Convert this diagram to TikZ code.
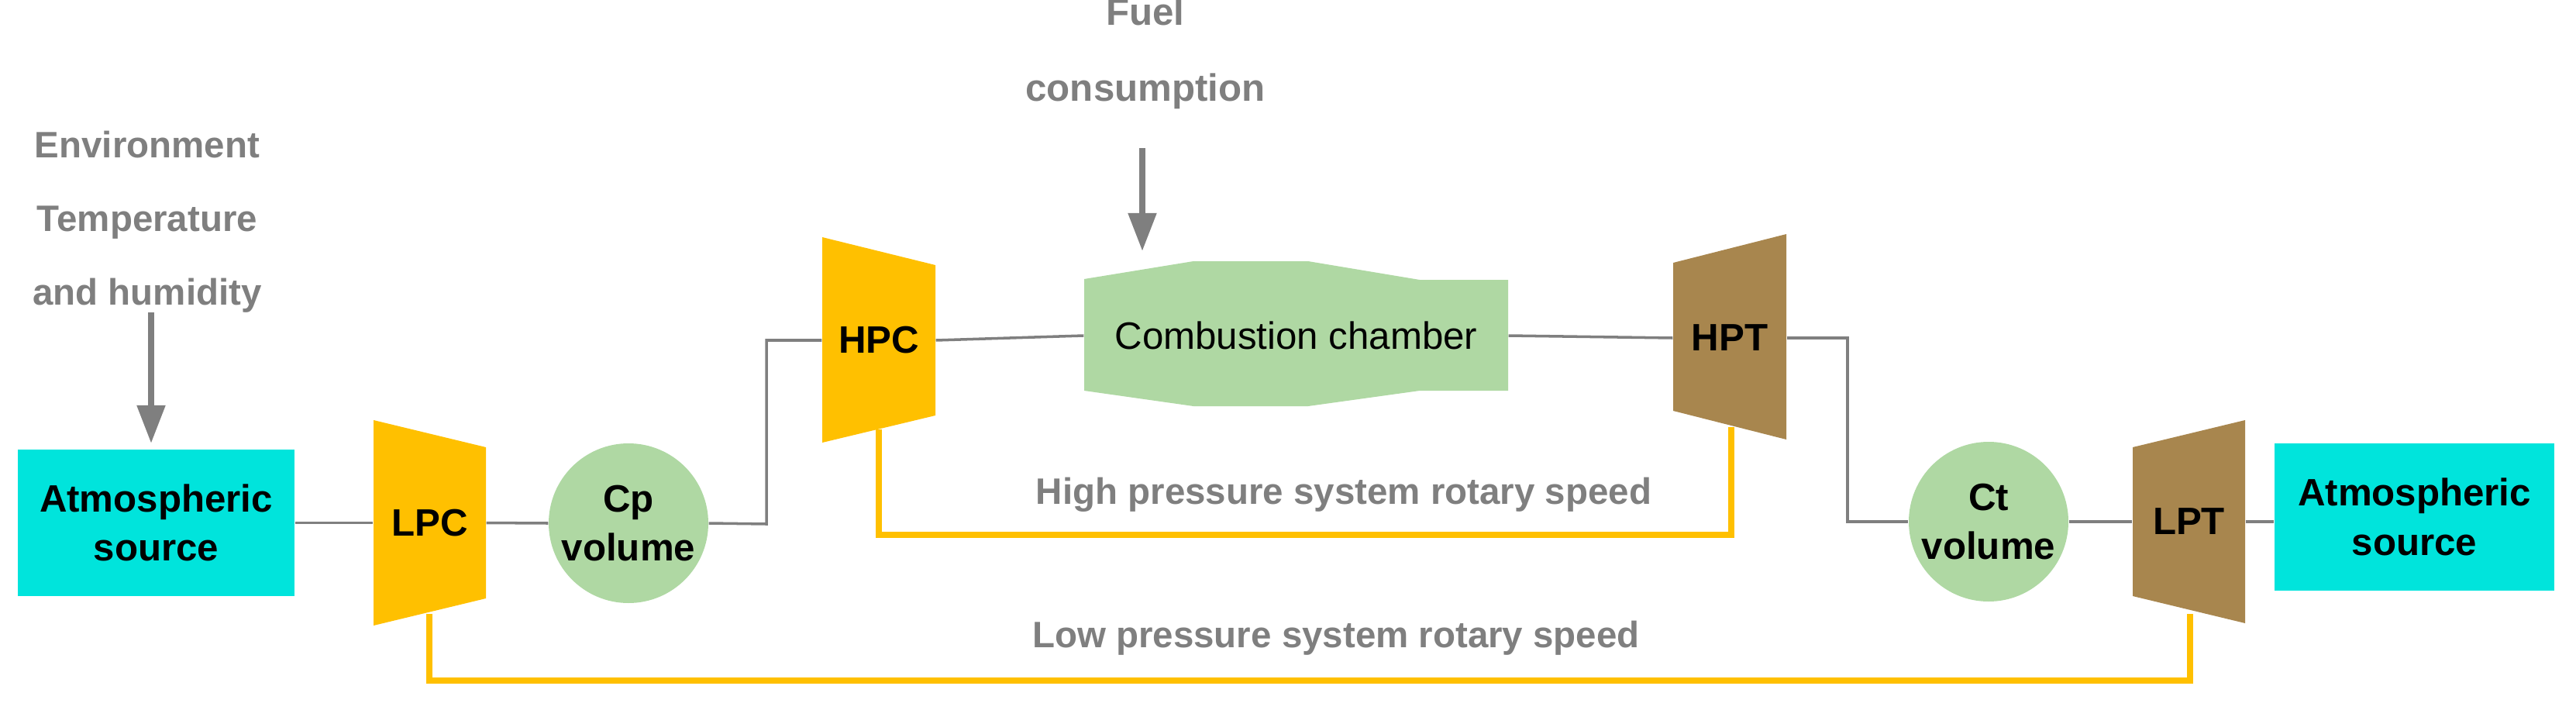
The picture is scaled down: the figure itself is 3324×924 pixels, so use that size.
\documentclass[tikz,border=0pt]{standalone}
\usepackage{fontspec}
\setmainfont{Liberation Sans}
\usetikzlibrary{arrows.meta}
\definecolor{cyanb}{HTML}{00E4DC}
\definecolor{yel}{HTML}{FFC000}
\definecolor{brn}{HTML}{A8864E}
\definecolor{grn}{HTML}{AFD8A3}
\definecolor{gry}{HTML}{7F7F7F}
\begin{document}
\begin{tikzpicture}[x=0.01cm,y=-0.01cm,
  lbl/.style={font=\fontsize{14}{16}\selectfont\bfseries,align=center,inner sep=0pt},
  glbl/.style={font=\fontsize{13.5}{27}\selectfont\bfseries,text=gry,align=center,inner sep=0pt},
  conn/.style={draw=gry,line width=1pt},
  shaft/.style={draw=yel,line width=2.3pt},
  garrow/.style={draw=gry,line width=2.3pt,-{Triangle[length=14pt,width=10pt]}}]
\useasboundingbox (0,0) rectangle (3324,924);
% shapes
\fill[cyanb] (23,580) rectangle (380,769);
\fill[cyanb] (2935,572) rectangle (3296,762);
\fill[yel] (482,542) -- (627,577) -- (627,772) -- (482,807) -- cycle;
\fill[yel] (1061,306) -- (1207,342) -- (1207,536) -- (1061,571) -- cycle;
\fill[brn] (2159,339) -- (2305,302) -- (2305,567) -- (2159,530) -- cycle;
\fill[brn] (2752,577) -- (2897,542) -- (2897,804) -- (2752,769) -- cycle;
\fill[grn] (811,675) circle (103);
\fill[grn] (2566,673) circle (103);
\fill[grn] (1399,360) -- (1540,337) -- (1688,337) -- (1832,361) -- (1946,361) -- (1946,504) -- (1832,504) -- (1688,524) -- (1540,524) -- (1399,504) -- cycle;
% nodes
\node[lbl,minimum width=357*0.01cm,minimum height=189*0.01cm] (atm1) at (201.5,674.5) {Atmospheric\\[2pt]source};
\node[lbl,minimum width=361*0.01cm,minimum height=190*0.01cm] (atm2) at (3115.5,667) {Atmospheric\\[2pt]source};
\node[lbl,minimum width=145*0.01cm,minimum height=195*0.01cm] (lpc) at (554.5,674.5) {LPC};
\node[lbl,minimum width=146*0.01cm,minimum height=194*0.01cm] (hpc) at (1134,439) {HPC};
\node[lbl,minimum width=146*0.01cm,minimum height=191*0.01cm] (hpt) at (2232,436) {HPT};
\node[lbl,minimum width=145*0.01cm,minimum height=192*0.01cm] (lpt) at (2824.5,673) {LPT};
\node[lbl,circle,minimum size=206*0.01cm] (cp) at (811,675) {Cp\\[2pt]volume};
\node[lbl,circle,minimum size=206*0.01cm] (ct) at (2566,673) {Ct\\[2pt]volume};
\node[inner sep=0pt,font=\fontsize{14}{16}\selectfont,minimum width=547*0.01cm,minimum height=144*0.01cm] (cc) at (1672.5,433) {Combustion chamber};
\node[glbl] (env) at (190,286) {Environment\\Temperature\\and humidity};
\node[glbl,font=\fontsize{14}{28}\selectfont\bfseries] (fuel) at (1478,69) {Fuel\\consumption};
\node[glbl] (hps) at (1734,638) {High pressure system rotary speed};
\node[glbl] (lps) at (1724,823) {Low pressure system rotary speed};
\coordinate (e1) at (195,403); \coordinate (e2) at (195,572);
\coordinate (f1) at (1474,191); \coordinate (f2) at (1474,324);
% connectors
\draw[conn] (atm1.east) -- (lpc.west);
\draw[conn] (lpc.east) -- (cp.west);
\draw[conn] (cp.east) -- (989,676) |- (hpc.west);
\draw[conn] (hpc.east) -- (cc.west);
\draw[conn] (cc.east) -- (hpt.west);
\draw[conn] (hpt.east) -- (2384,436) |- (ct.west);
\draw[conn] (ct.east) -- (lpt.west);
\draw[conn] (lpt.east) -- (atm2.west |- lpt.east);
\draw[shaft] (1134,554) -- (1134,690) -- (2234,690) -- (2234,551);
\draw[shaft] (554,792) -- (554,878) -- (2826,878) -- (2826,792);
\draw[garrow] (e1) -- (e2);
\draw[garrow] (f1) -- (f2);
\end{tikzpicture}
\end{document}
